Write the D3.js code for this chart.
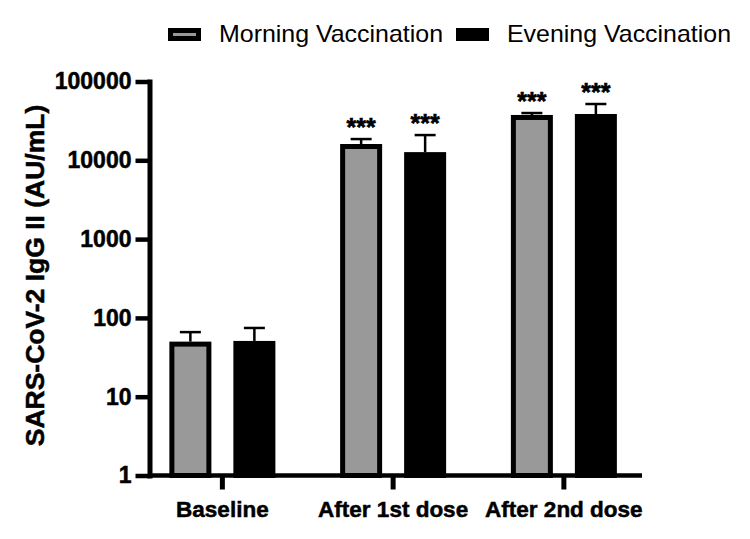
<!DOCTYPE html>
<html>
<head>
<meta charset="utf-8">
<script src="https://cdn.jsdelivr.net/npm/d3@7"></script>
<style>
  html, body { margin: 0; padding: 0; background: #fff; }
  svg { display: block; }
  text { font-family: "Liberation Sans", Arial, sans-serif; }
</style>
</head>
<body>
<svg id="chart" width="750" height="539"></svg>
<script>
// ---- data ----
const categories = ["Baseline", "After 1st dose", "After 2nd dose"];
const seriesNames = ["Morning Vaccination", "Evening Vaccination"];
const morningMean = [50, 16100, 37600];
const morningUpper = [66, 18600, 39800];
const eveningMean = [51, 12700, 38700];
const eveningUpper = [74.5, 20900, 51800];
const morningSig = ["", "***", "***"];
const eveningSig = ["", "***", "***"];
const yTicks = [1, 10, 100, 1000, 10000, 100000];
const yTitle = "SARS-CoV-2 IgG II (AU/mL)";

const svg = d3.select("#chart");

const y = d3.scaleLog().domain([1, 100000]).range([475.5, 81.5]);
const x0 = d3.scaleBand().domain(categories).range([137, 649.25]).padding(0);
const x1 = d3.scaleBand().domain(seriesNames).range([-53, 53]).paddingInner(22 / 64).paddingOuter(0);

const fills = { "Morning Vaccination": "#999999", "Evening Vaccination": "#000000" };

const rows = [];
categories.forEach((c, i) => {
  rows.push({ cat: c, s: seriesNames[0], v: morningMean[i], up: morningUpper[i], sig: morningSig[i] });
  rows.push({ cat: c, s: seriesNames[1], v: eveningMean[i], up: eveningUpper[i], sig: eveningSig[i] });
});
const cx = d => x0(d.cat) + x0.bandwidth() / 2 + x1(d.s);
const bw = x1.bandwidth();

// error bars
const eb = svg.append("g");
rows.forEach(d => {
  const mid = cx(d) + bw / 2;
  eb.append("line").attr("x1", mid).attr("x2", mid).attr("y1", y(d.v)).attr("y2", y(d.up))
    .attr("stroke", "#000").attr("stroke-width", 2.5);
  eb.append("line").attr("x1", mid - bw / 4).attr("x2", mid + bw / 4).attr("y1", y(d.up)).attr("y2", y(d.up))
    .attr("stroke", "#000").attr("stroke-width", 2.5);
});

// bars
const sw = 5;
svg.append("g").selectAll("rect").data(rows).join("rect")
  .attr("x", d => cx(d) + sw / 2)
  .attr("y", d => y(d.v) + sw / 2)
  .attr("width", bw - sw)
  .attr("height", d => y(1) - y(d.v) - sw / 2)
  .attr("fill", d => fills[d.s])
  .attr("stroke", "#000")
  .attr("stroke-width", sw);

// significance stars
svg.append("g").selectAll("text").data(rows.filter(d => d.sig)).join("text")
  .attr("x", d => cx(d) + bw / 2)
  .attr("y", d => y(d.up) - 3)
  .attr("text-anchor", "middle")
  .attr("font-weight", "bold")
  .attr("font-size", 25)
  .attr("stroke", "#000").attr("stroke-width", 0.6)
  .text(d => d.sig);

// y axis
const yAxis = svg.append("g").attr("transform", "translate(149.5,0)")
  .call(d3.axisLeft(y).tickValues(yTicks).tickFormat(d3.format("d")).tickSize(14).tickPadding(4).tickSizeOuter(0));
yAxis.select(".domain").attr("stroke-width", 5).attr("stroke-linecap", "square");
yAxis.selectAll(".tick line").attr("stroke-width", 4.5);
yAxis.selectAll(".tick text").attr("font-size", 23).attr("font-weight", "bold")
  .attr("font-family", "'Liberation Sans', Arial, sans-serif").attr("fill", "#000")
  .attr("stroke", "#000").attr("stroke-width", 0.5);

// x axis
const xAxis = svg.append("g").attr("transform", "translate(0,475.5)")
  .call(d3.axisBottom(x0).tickSize(14).tickPadding(12).tickSizeOuter(0));
xAxis.select(".domain").attr("d", "M150,0H642").attr("stroke-width", 4.5);
xAxis.selectAll(".tick line").attr("stroke-width", 5);
xAxis.selectAll(".tick text").attr("font-size", 22.5).attr("font-weight", "bold")
  .attr("font-family", "'Liberation Sans', Arial, sans-serif").attr("fill", "#000")
  .attr("stroke", "#000").attr("stroke-width", 0.5);

// y title
svg.append("text")
  .attr("transform", "translate(44,275.5) rotate(-90)")
  .attr("text-anchor", "middle")
  .attr("font-weight", "bold")
  .attr("font-size", 26.5)
  .attr("stroke", "#000").attr("stroke-width", 0.5)
  .text(yTitle);

// legend
const legend = svg.append("g");
const legX = [168, 456];
const textX = [219, 507];
seriesNames.forEach((s, i) => {
  legend.append("rect")
    .attr("x", legX[i] + 2.5).attr("y", 28 + 2.5)
    .attr("width", 33 - 5).attr("height", 13 - 5)
    .attr("fill", fills[s]).attr("stroke", "#000").attr("stroke-width", 5);
  legend.append("text")
    .attr("x", textX[i]).attr("y", 42)
    .attr("font-size", 24)
    .attr("textLength", 224).attr("lengthAdjust", "spacingAndGlyphs")
    .text(s);
});
</script>
</body>
</html>
